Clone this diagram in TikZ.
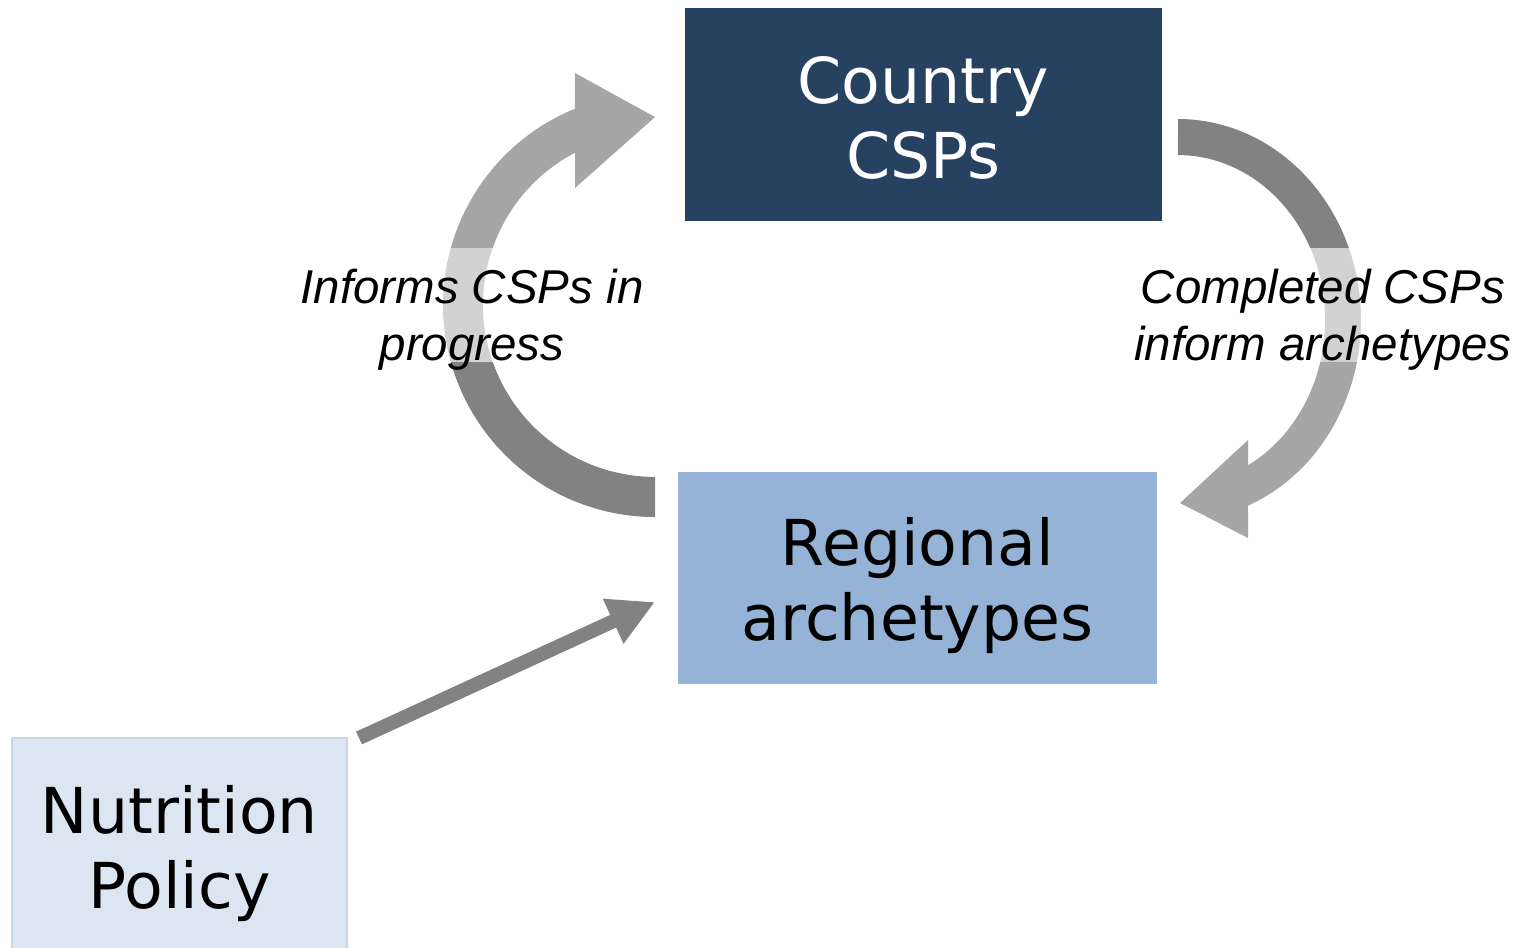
\documentclass[tikz,border=0pt]{standalone}
\usepackage{fontspec}
\setmainfont{DejaVu Sans}
\newfontfamily\notefont{Liberation Sans}
\usetikzlibrary{arrows.meta}

\newlength{\du}
\setlength{\du}{0.01cm}

\definecolor{cspblue}{RGB}{39,65,96}
\definecolor{archblue}{RGB}{149,179,215}
\definecolor{policyblue}{RGB}{220,230,242}
\definecolor{policyline}{RGB}{205,212,222}
\definecolor{darkgrey}{RGB}{130,130,130}
\definecolor{lightgrey}{RGB}{166,166,166}

\tikzset{
  box/.style={rectangle, inner sep=0pt, text depth=0pt,
    font=\fontsize{18}{21.3}\selectfont},
  note/.style={rectangle, fill=white, fill opacity=0.5, text opacity=1,
    inner xsep=10\du, inner ysep=0pt, minimum height=114\du,
    text height=110\du, text depth=0pt,
    font=\notefont\itshape\fontsize{13.5}{16.2}\selectfont},
}

\begin{document}
\begin{tikzpicture}
\pgftransformxscale{1.000000}
\pgftransformyscale{-1.000000}
\useasboundingbox (0\du,0\du) rectangle (1521\du,947\du);

% left loop, regional -> country
\fill[darkgrey] (655\du,517\du) arc[start angle=90, end angle=164.4, radius=212\du]
  -- (492.8\du,362\du) arc[start angle=160.6, end angle=90, radius=172\du] -- cycle;
\fill[lightgrey] (450.8\du,362\du) arc[start angle=164.4, end angle=247.8, radius=212\du]
  -- (575\du,73\du) -- (655\du,117\du) -- (575\du,188\du) -- (575\du,152.7\du)
  arc[start angle=242.3, end angle=160.6, radius=172\du] -- cycle;

% right loop, country -> regional
\fill[darkgrey] (1178\du,119\du) arc[start angle=270, end angle=339, x radius=183\du, y radius=201\du]
  -- (1310.2\du,248\du) arc[start angle=334.1, end angle=270, x radius=147\du, y radius=165\du] -- cycle;
\fill[lightgrey] (1348.8\du,248\du) arc[start angle=-21, end angle=67.5, x radius=183\du, y radius=201\du]
  -- (1248\du,538\du) -- (1180\du,503\du) -- (1248\du,440\du) -- (1248\du,465.2\du)
  arc[start angle=61.6, end angle=-25.9, x radius=147\du, y radius=165\du] -- cycle;

\node[note] (informnote) at (472\du,305\du)
  {\begin{tabular}[b]{@{}c@{}}Informs CSPs in\\progress\end{tabular}};
\node[note] (completenote) at (1323\du,305\du)
  {\begin{tabular}[b]{@{}c@{}}Completed CSPs\\inform archetypes\end{tabular}};

\node[box, fill=cspblue, text=white, minimum width=477\du, minimum height=213\du,
  text height=127\du] (country) at (923.5\du,114.5\du)
  {\begin{tabular}[b]{@{}c@{}}Country\\CSPs\end{tabular}};
\node[box, fill=archblue, minimum width=479\du, minimum height=212\du,
  text height=124\du] (regional) at (917.5\du,578\du)
  {\begin{tabular}[b]{@{}c@{}}Regional\\archetypes\end{tabular}};
\node[box, fill=policyblue, draw=policyline, line width=1.5\du, minimum width=335\du,
  minimum height=212\du, text height=128\du] (policy) at (179.5\du,844\du)
  {\begin{tabular}[b]{@{}c@{}}Nutrition\\Policy\end{tabular}};

\coordinate (policyout) at (359\du,738\du);
\coordinate (archin) at (655\du,602\du);
\draw[darkgrey, line width=14\du, -{Triangle[length=0.46cm, width=0.46cm]}] (policyout) -- (archin);
\end{tikzpicture}
\end{document}
